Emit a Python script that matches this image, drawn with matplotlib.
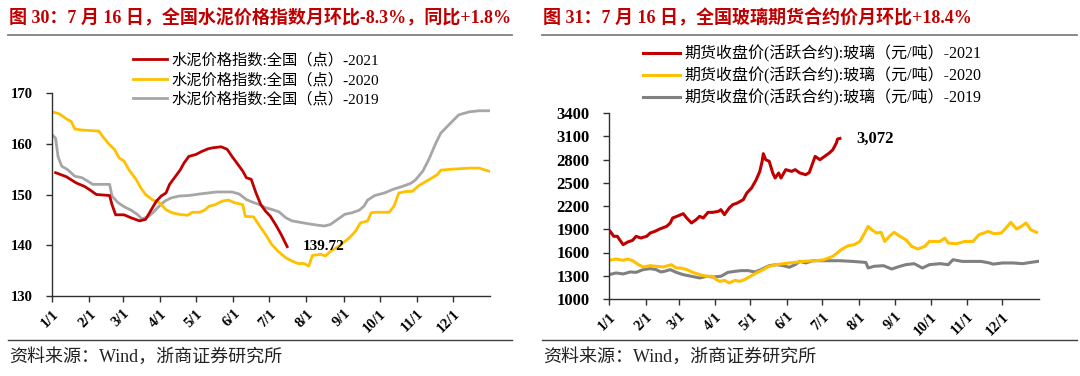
import pandas as pd
import matplotlib
matplotlib.use("Agg")
import matplotlib.pyplot as plt
from matplotlib.lines import Line2D

# ============================================================
# Data (x = days since Jan 1)
# ============================================================
cement_2021_day = [3, 12, 20, 27, 31, 37, 48, 50, 53, 60, 66, 73, 78, 82, 87, 91, 95, 98, 103, 107,
                   110, 114, 120, 125, 130, 134, 141, 146, 150, 155, 159, 162, 166, 170, 174, 178,
                   182, 187, 191, 196]
cement_2021 = [154.3, 153.5, 152.3, 151.6, 151.0, 150.0, 149.8, 148.0, 146.0, 146.0, 145.4, 144.8,
               145.1, 146.7, 148.7, 149.7, 150.3, 152.0, 153.6, 154.9, 156.2, 157.5, 157.9, 158.5,
               159.0, 159.2, 159.4, 158.9, 157.5, 155.9, 154.6, 153.3, 153.0, 150.3, 148.0, 146.7,
               145.7, 143.8, 142.1, 139.72]

cement_2020_day = [0, 6, 12, 16, 19, 25, 39, 42, 48, 52, 56, 60, 64, 70, 74, 78, 84, 89, 95, 100,
                   106, 113, 117, 123, 127, 131, 136, 142, 147, 152, 159, 161, 168, 173, 178, 183,
                   188, 195, 200, 205, 210, 214, 217, 224, 228, 232, 239, 248, 253, 257, 263, 266,
                   270, 281, 285, 289, 295, 300, 306, 314, 321, 324, 334, 348, 356, 364]
cement_2020 = [166.3, 165.9, 164.9, 164.4, 162.9, 162.7, 162.5, 161.5, 159.8, 158.9, 157.2, 156.6,
               154.9, 153.0, 151.3, 150.0, 148.9, 148.5, 147.0, 146.4, 146.1, 145.9, 146.5, 146.5,
               146.9, 147.7, 148.0, 148.7, 148.9, 148.4, 148.0, 145.7, 145.6, 143.8, 142.1, 140.2,
               138.9, 137.5, 136.9, 136.4, 136.4, 135.9, 138.0, 138.2, 137.9, 138.8, 139.8, 141.5,
               142.8, 144.4, 144.8, 146.4, 146.5, 146.5, 147.7, 150.3, 150.6, 150.6, 151.8, 152.9,
               153.9, 154.8, 155.0, 155.2, 155.2, 154.6]

cement_2019_day = [0, 3, 5, 8, 13, 19, 25, 30, 34, 48, 50, 55, 60, 66, 71, 75, 80, 84, 88, 94,
                   99, 106, 114, 123, 130, 137, 150, 156, 162, 167, 173, 178, 184, 189, 195, 200,
                   212, 220, 227, 232, 238, 244, 250, 256, 260, 263, 269, 277, 284, 292, 299, 303,
                   309, 314, 320, 324, 331, 339, 348, 356, 364]
cement_2019 = [161.8, 161.1, 157.5, 155.6, 154.9, 153.6, 153.3, 152.6, 152.0, 152.0, 149.7, 148.4,
               147.6, 146.9, 146.1, 145.2, 145.6, 146.4, 147.4, 148.7, 149.3, 149.7, 149.8, 150.1,
               150.3, 150.5, 150.5, 150.1, 149.0, 148.5, 148.0, 147.4, 147.0, 146.6, 145.4, 144.8,
               144.3, 144.0, 143.8, 144.1, 145.1, 146.1, 146.4, 146.9, 147.7, 148.9, 149.8, 150.3,
               151.0, 151.6, 152.2, 152.9, 154.6, 156.9, 160.2, 162.1, 163.8, 165.7, 166.3, 166.5,
               166.5]

glass_2021_day = [1, 4, 7, 9, 12, 16, 20, 23, 27, 32, 35, 39, 43, 49, 52, 54, 59, 63, 66, 70,
                  74, 77, 80, 84, 88, 93, 95, 98, 102, 105, 109, 114, 117, 121, 125, 128, 130, 131,
                  133, 136, 139, 141, 144, 146, 150, 155, 158, 162, 167, 170, 175, 179, 183, 187,
                  190, 193, 194, 196]
glass_2021 = [1873, 1809, 1809, 1766, 1701, 1736, 1757, 1809, 1787, 1809, 1852, 1873, 1903, 1938,
              1981, 2045, 2075, 2101, 2045, 1981, 2024, 2067, 2045, 2118, 2118, 2131, 2153, 2088,
              2174, 2217, 2239, 2282, 2368, 2432, 2540, 2647, 2776, 2875, 2798, 2776, 2626, 2561,
              2626, 2561, 2669, 2647, 2669, 2626, 2604, 2632, 2840, 2797, 2840, 2884, 2926, 3013,
              3064, 3072]

glass_2020_day = [0, 6, 12, 16, 20, 25, 29, 35, 40, 46, 53, 57, 61, 66, 71, 77, 83, 88, 91, 94,
                  98, 102, 107, 111, 115, 119, 125, 131, 136, 142, 148, 153, 159, 165, 170, 176,
                  182, 190, 197, 203, 208, 213, 217, 220, 223, 227, 231, 234, 238, 242, 247, 252,
                  257, 262, 268, 272, 281, 285, 288, 295, 302, 309, 314, 322, 327, 333, 337, 341,
                  346, 350, 354, 358, 363]
glass_2020 = [1499, 1516, 1499, 1516, 1495, 1443, 1413, 1430, 1422, 1413, 1443, 1400, 1400, 1379,
              1344, 1314, 1293, 1293, 1250, 1228, 1241, 1207, 1241, 1228, 1250, 1284, 1336, 1379,
              1422, 1443, 1456, 1465, 1474, 1486, 1490, 1495, 1505, 1550, 1636, 1688, 1700, 1743,
              1852, 1937, 1894, 1852, 1860, 1743, 1808, 1860, 1808, 1765, 1679, 1645, 1679, 1743,
              1743, 1786, 1722, 1713, 1743, 1743, 1830, 1872, 1843, 1852, 1916, 1989, 1903, 1937,
              1981, 1894, 1860]

glass_2019_day = [0, 6, 12, 18, 23, 29, 35, 40, 44, 47, 52, 57, 63, 70, 77, 83, 88, 95, 101, 107,
                  112, 118, 124, 129, 136, 142, 148, 153, 158, 162, 167, 173, 183, 196, 207, 218,
                  220, 225, 233, 240, 247, 252, 259, 266, 272, 281, 288, 292, 300, 309, 316, 323,
                  326, 334, 343, 351, 360, 364]
glass_2019 = [1314, 1336, 1323, 1349, 1344, 1379, 1392, 1379, 1349, 1357, 1379, 1344, 1314, 1293,
              1271, 1293, 1284, 1293, 1344, 1357, 1366, 1366, 1349, 1379, 1430, 1443, 1430, 1409,
              1443, 1486, 1465, 1494, 1494, 1494, 1485, 1472, 1400, 1422, 1430, 1387, 1422, 1443,
              1456, 1400, 1443, 1456, 1443, 1507, 1485, 1485, 1485, 1465, 1450, 1465, 1465, 1456,
              1477, 1485]

month_labels = ["1/1", "2/1", "3/1", "4/1", "5/1", "6/1", "7/1", "8/1", "9/1", "10/1", "11/1", "12/1"]

title_left = "图 30：7 月 16 日，全国水泥价格指数月环比-8.3%，同比+1.8%"
title_right = "图 31：7 月 16 日，全国玻璃期货合约价月环比+18.4%"
legend_left = ["水泥价格指数:全国（点）-2021", "水泥价格指数:全国（点）-2020", "水泥价格指数:全国（点）-2019"]
legend_right = ["期货收盘价(活跃合约):玻璃（元/吨）-2021", "期货收盘价(活跃合约):玻璃（元/吨）-2020",
                "期货收盘价(活跃合约):玻璃（元/吨）-2019"]
source = "资料来源：Wind，浙商证券研究所"

FONT = ["Liberation Serif", "Noto Sans CJK SC"]
RED = "#C00000"
YELLOW = "#FFC000"

W, H = 1080, 376

# month start positions, days since Jan 1
month_pos = list(pd.date_range("2021-01-01", periods=12, freq="MS").dayofyear - 1)


def fx(px):
    return px / W


def fy(py):
    return 1 - py / H


# ============================================================
# Shared frame: title, rules, source
# ============================================================
def draw_frame(fig, x0, x1, title):
    fig.text(fx(x0 + 1), fy(18), title, family=FONT, weight="bold", fontsize=13,
             color=RED, va="center", ha="left")
    fig.add_artist(Line2D([fx(x0), fx(x1)], [fy(35), fy(35)], color="#808080", lw=1.3))
    fig.add_artist(Line2D([fx(x0), fx(x1)], [fy(340), fy(340)], color="#404040", lw=1.0))
    fig.text(fx(x0 + 1), fy(357), source, family=FONT, fontsize=13, color="#222222",
             va="center", ha="left")


def style_axis(ax, ylim, yticks, ysize):
    ax.set_xlim(0, 365)
    ax.set_ylim(*ylim)
    ax.set_yticks(yticks)
    ax.set_xticks(month_pos)
    ax.set_xticklabels(month_labels, rotation=45, ha="right", va="top",
                       rotation_mode="anchor", family=FONT, weight="bold", fontsize=10.5)
    for lab in ax.get_yticklabels():
        lab.set_family(FONT)
        lab.set_weight("bold")
        lab.set_fontsize(ysize)
    for s in ["top", "right"]:
        ax.spines[s].set_visible(False)
    for s in ["left", "bottom"]:
        ax.spines[s].set_color("#303030")
        ax.spines[s].set_linewidth(1.0)
    ax.tick_params(axis="both", direction="out", length=4, width=1.0, color="#303030", pad=2)
    ax.tick_params(axis="y", pad=10)
    ax.tick_params(axis="x", pad=4)


fig = plt.figure(figsize=(W / 100, H / 100), dpi=100)

# ============================================================
# Left: cement price index
# ============================================================
draw_frame(fig, 8, 512, title_left)
ax1 = fig.add_axes([fx(52), fy(296), fx(490) - fx(52), fy(93) - fy(296)])
ax1.plot(cement_2021_day, cement_2021, color=RED, lw=2.0, label=legend_left[0], zorder=3)
ax1.plot(cement_2020_day, cement_2020, color=YELLOW, lw=2.0, label=legend_left[1], zorder=2)
ax1.plot(cement_2019_day, cement_2019, color="#A6A6A6", lw=2.0, label=legend_left[2], zorder=1)
style_axis(ax1, (130, 170), [130, 140, 150, 160, 170], 10.5)
ax1.annotate(f"{cement_2021[-1]:.2f}", (cement_2021_day[-1], cement_2021[-1]),
             xytext=(226, cement_2021[-1]), textcoords="data", ha="center", va="center",
             family=FONT, weight="bold", fontsize=11)
ax1.legend(loc="upper left", bbox_to_anchor=(fx(133), fy(53)), bbox_transform=fig.transFigure,
           frameon=False, prop={"family": FONT, "size": 11}, handlelength=2.2,
           handletextpad=0.3, labelspacing=0.33, borderpad=0, borderaxespad=0)

# ============================================================
# Right: glass futures
# ============================================================
draw_frame(fig, 542, 1077, title_right)
ax2 = fig.add_axes([fx(609), fy(299), fx(1039) - fx(609), fy(113) - fy(299)])
ax2.plot(glass_2021_day, glass_2021, color=RED, lw=2.2, label=legend_right[0], zorder=3)
ax2.plot(glass_2020_day, glass_2020, color=YELLOW, lw=2.2, label=legend_right[1], zorder=2)
ax2.plot(glass_2019_day, glass_2019, color="#808080", lw=2.2, label=legend_right[2], zorder=1)
style_axis(ax2, (1000, 3400), list(range(1000, 3401, 300)), 12)
ax2.annotate(f"{glass_2021[-1]:,}", (glass_2021_day[-1], glass_2021[-1]),
             xytext=(210, glass_2021[-1]), textcoords="data", ha="left", va="center",
             family=FONT, weight="bold", fontsize=12)
ax2.legend(loc="upper left", bbox_to_anchor=(fx(643), fy(45)), bbox_transform=fig.transFigure,
           frameon=False, prop={"family": FONT, "size": 11.5}, handlelength=2.3,
           handletextpad=0.3, labelspacing=0.3, borderpad=0, borderaxespad=0)

fig.savefig("out.png", dpi=100)
